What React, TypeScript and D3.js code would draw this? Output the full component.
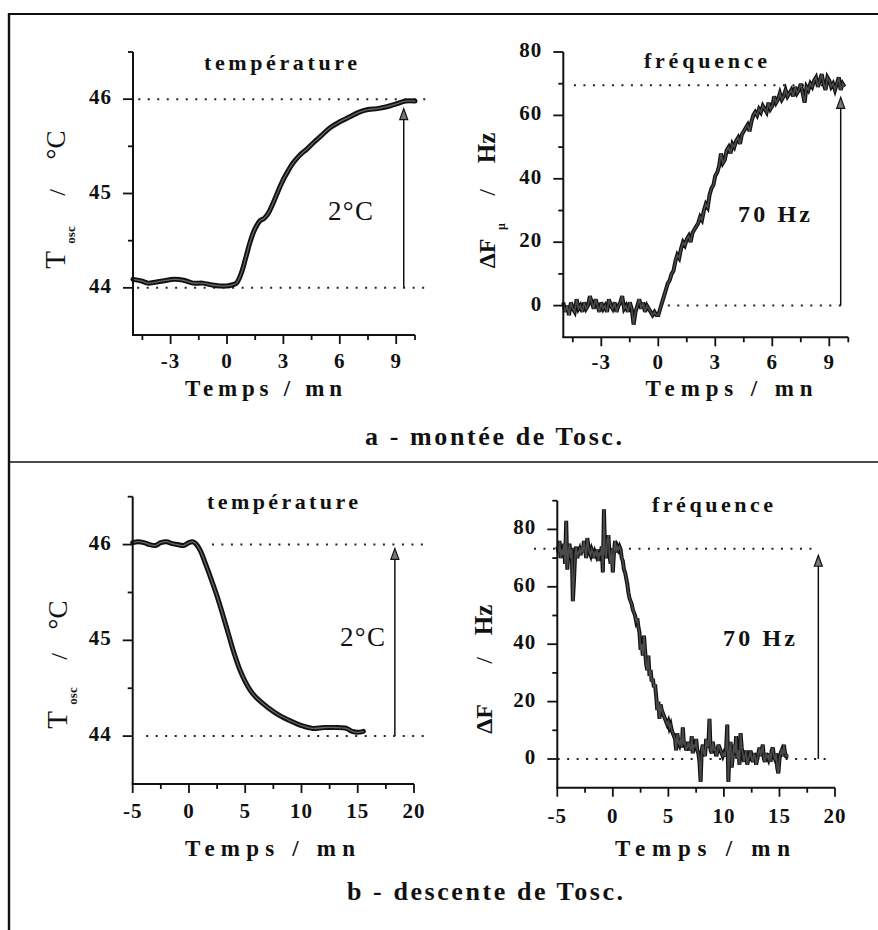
import React from "react";
import * as d3 from "d3";

// ---------------- data ----------------
const tempUpTime = [-5, -4.5, -4.2, -3.5, -2.8, -2.3, -1.8, -1.3, -0.8, -0.4, 0, 0.25, 0.5, 0.75, 1, 1.25, 1.5, 1.75, 2, 2.25, 2.5, 2.75, 3, 3.25, 3.5, 3.75, 4, 4.25, 4.5, 5, 5.5, 6, 6.5, 7, 7.5, 8, 8.5, 9, 9.5, 10];
const tempUpValue = [44.09, 44.07, 44.05, 44.07, 44.09, 44.08, 44.05, 44.05, 44.03, 44.02, 44.02, 44.03, 44.05, 44.15, 44.32, 44.5, 44.63, 44.71, 44.74, 44.81, 44.92, 45.04, 45.15, 45.24, 45.32, 45.38, 45.43, 45.47, 45.52, 45.61, 45.7, 45.76, 45.81, 45.86, 45.89, 45.9, 45.92, 45.95, 45.98, 45.98];

const tempDownTime = [-5, -4.5, -4, -3.5, -3, -2.5, -2, -1.5, -1, -0.5, 0, 0.3, 0.6, 1, 1.5, 2, 2.5, 3, 3.5, 4, 4.5, 5, 5.5, 6, 7, 8, 9, 10, 11, 12, 13, 14, 14.5, 15, 15.5];
const tempDownValue = [46.02, 46.03, 46.02, 46.0, 45.99, 46.02, 46.03, 46.01, 46.0, 45.99, 46.02, 46.03, 46.01, 45.94, 45.79, 45.63, 45.46, 45.27, 45.07, 44.87, 44.7, 44.57, 44.47, 44.4, 44.3, 44.22, 44.16, 44.11, 44.08, 44.09, 44.09, 44.08, 44.05, 44.04, 44.05];

// frequency traces sampled every 0.1 mn starting at -5 mn
const freqUpStart = -5;
const freqUpStep = 0.1;
const freqUpValue = [
  1, -2, 0, -3, 1, -1, -2, 2, -1, 0,
  -2, 1, -1, 0, 3, 1, -1, 2, 0, -2,
  1, -1, 0, -2, 2, 0, -1, 1, -2, 0,
  1, 3, -1, 0, -2, 1, -1, -6, -2, 0,
  2, -1, 1, -2, 0, -1, -2, -3, -2, -3,
  -3, -1, 1, 3, 5, 7, 8, 10, 11, 14,
  16, 15, 18, 20, 19, 21, 22, 20, 23, 24,
  25, 26, 28, 27, 30, 32, 31, 35, 37, 38,
  41, 42, 44, 48, 45, 46, 49, 50, 48, 51,
  50, 52, 53, 51, 54, 55, 56, 57, 55, 58,
  60, 61, 60, 62, 61, 63, 62, 61, 64, 62,
  63, 66, 64, 65, 67, 65, 66, 68, 66, 67,
  68, 66, 69, 67, 68, 70, 67, 64, 69, 68,
  70, 69, 71, 72, 69, 71, 73, 70, 68, 72,
  71, 69, 70, 68, 70, 72, 68, 70, 69,
];

const freqDownStart = -5;
const freqDownStep = 0.1;
const freqDownValue = [
  74, 72, 76, 70, 73, 71, 75, 68, 83, 66,
  72, 75, 70, 73, 55, 62, 71, 74, 70, 72,
  73, 71, 74, 72, 76, 73, 70, 77, 74, 72,
  71, 73, 72, 70, 72, 71, 73, 69, 72, 71,
  74, 65, 87, 72, 70, 76, 78, 71, 68, 73,
  65, 72, 76, 72, 74, 73, 74, 73, 70, 69,
  66, 65, 63, 61, 58, 56, 55, 54, 52, 51,
  50, 48, 49, 46, 44, 38, 40, 36, 43, 38,
  33, 31, 36, 29, 31, 27, 28, 25, 26, 22,
  17, 20, 14, 19, 17, 16, 15, 14, 13, 12,
  13, 11, 12, 10, 9, 8, 7, 3, 9, 6,
  5, 7, 4, 11, 5, 6, 3, 4, 6, 4,
  3, 8, 2, 5, 4, 7, 3, 2, -1, -8,
  3, 5, 2, 1, 7, 4, 5, 14, 3, 2,
  6, 3, 4, 1, 2, 5, 4, 3, 2, 1,
  2, 1, 4, 12, -8, 3, 6, -3, 1, 5,
  2, 8, 0, 3, -2, 9, 4, 2, -1, 1,
  3, -2, 0, 1, 3, 0, -1, 2, 1, -2,
  0, 2, 4, 1, 3, 5, 0, -1, 2, 1,
  0, 2, -1, 3, 4, 1, 0, 2, -3, -5,
  0, 2, 3, 1, 5, 2, 1, 1, 1,
];

const xTicksShortMajor = [-3, 0, 3, 6, 9];
const xTicksShortMinor = [-4.5, -1.5, 1.5, 4.5, 7.5, 10];
const xTicksLongMajor = [-5, 0, 5, 10, 15, 20];
const xTicksLongMinor = [-2.5, 2.5, 7.5, 12.5, 17.5];
const tempTicksMajor = [44, 45, 46];
const tempTicksMinor = [44.5, 45.5, 46.5];
const freqTicksMajor = [0, 20, 40, 60, 80];
const freqUpTicksMinor = [10, 30, 50, 70];
const freqDownTicksMinor = [10, 30, 50, 70, 90];

const titles = ["température", "fréquence", "température", "fréquence"];
const xAxisTitle = "Temps / mn";
const captions = ["a - montée de Tosc.", "b - descente de Tosc."];
const notes = ["2°C", "70 Hz", "2°C", "70 Hz"];

const FONT = "'Liberation Serif', 'Times New Roman', serif";

const freqUpTime = freqUpValue.map((_, i) => freqUpStart + i * freqUpStep);
const freqDownTime = freqDownValue.map((_, i) => freqDownStart + i * freqDownStep);

type YPart = { t: string; c: number; size: number; bold: boolean; bx: number };

type PanelCfg = {
  x0: number; x1: number; yTop: number; yBot: number;
  xDomain: [number, number]; yDomain: [number, number];
  xMajor: number[]; xMinor: number[]; yMajor: number[]; yMinor: number[];
  times: number[]; values: number[]; kind: "temp" | "freq";
  title: string; titleX: number; titleY: number; titleW: number;
  xtX: number; xtY: number; xtW: number; tickDy: number;
  yParts: YPart[];
  guides: { v: number; from: number; to: number }[];
  arrow: { t: number; from: number; to: number };
  note: string; noteX: number; noteY: number; noteW: number; noteBold: boolean;
};

const panels: PanelCfg[] = [
  {
    x0: 133, x1: 415, yTop: 52, yBot: 335,
    xDomain: [-5, 10], yDomain: [43.5, 46.5],
    xMajor: xTicksShortMajor, xMinor: xTicksShortMinor, yMajor: tempTicksMajor, yMinor: tempTicksMinor,
    times: tempUpTime, values: tempUpValue, kind: "temp",
    title: titles[0], titleX: 280.5, titleY: 70, titleW: 153,
    xtX: 263.5, xtY: 396, xtW: 157, tickDy: 33,
    yParts: [
      { t: "T", c: 260, size: 29, bold: false, bx: 65 },
      { t: "osc", c: 235, size: 13, bold: true, bx: 75 },
      { t: "/", c: 192.5, size: 24, bold: false, bx: 65 },
      { t: "°C", c: 145, size: 27, bold: false, bx: 65 },
    ],
    guides: [{ v: 46, from: -4.72, to: 10.83 }, { v: 44, from: -4.78, to: 10.83 }],
    arrow: { t: 9.4, from: 44, to: 45.9 },
    note: notes[0], noteX: 350.5, noteY: 220, noteW: 45, noteBold: false,
  },
  {
    x0: 563.3, x1: 848.3, yTop: 52, yBot: 337.3,
    xDomain: [-5, 10], yDomain: [-10, 80],
    xMajor: xTicksShortMajor, xMinor: xTicksShortMinor, yMajor: freqTicksMajor, yMinor: freqUpTicksMinor,
    times: freqUpTime, values: freqUpValue, kind: "freq",
    title: titles[1], titleX: 705.5, titleY: 68, titleW: 123,
    xtX: 729, xtY: 396, xtW: 167, tickDy: 32,
    yParts: [
      { t: "ΔF", c: 253.5, size: 24, bold: true, bx: 495 },
      { t: "μ", c: 226.5, size: 12, bold: true, bx: 505 },
      { t: "/", c: 192.5, size: 24, bold: false, bx: 495 },
      { t: "Hz", c: 148, size: 25, bold: true, bx: 495 },
    ],
    guides: [{ v: 69.5, from: -4.44, to: 9.87 }, { v: 0, from: 0.5, to: 9.87 }],
    arrow: { t: 9.6, from: 0, to: 65.7 },
    note: notes[1], noteX: 774, noteY: 221.5, noteW: 72, noteBold: true,
  },
  {
    x0: 132.7, x1: 414, yTop: 496.7, yBot: 784,
    xDomain: [-5, 20], yDomain: [43.5, 46.5],
    xMajor: xTicksLongMajor, xMinor: xTicksLongMinor, yMajor: tempTicksMajor, yMinor: tempTicksMinor,
    times: tempDownTime, values: tempDownValue, kind: "temp",
    title: titles[2], titleX: 282.5, titleY: 509, titleW: 151,
    xtX: 270, xtY: 856, xtW: 170, tickDy: 34,
    yParts: [
      { t: "T", c: 720, size: 29, bold: false, bx: 67 },
      { t: "osc", c: 696, size: 13, bold: true, bx: 77 },
      { t: "/", c: 656.5, size: 24, bold: false, bx: 67 },
      { t: "°C", c: 615, size: 27, bold: false, bx: 67 },
    ],
    guides: [{ v: 46, from: 2.04, to: 21.0 }, { v: 44, from: -3.8, to: 21.0 }],
    arrow: { t: 18.3, from: 44, to: 45.96 },
    note: notes[2], noteX: 362.5, noteY: 646, noteW: 45, noteBold: false,
  },
  {
    x0: 557.3, x1: 835, yTop: 500.7, yBot: 787.7,
    xDomain: [-5, 20], yDomain: [-10, 90],
    xMajor: xTicksLongMajor, xMinor: xTicksLongMinor, yMajor: freqTicksMajor, yMinor: freqDownTicksMinor,
    times: freqDownTime, values: freqDownValue, kind: "freq",
    title: titles[3], titleX: 712.5, titleY: 512, titleW: 121,
    xtX: 702.5, xtY: 856, xtW: 175, tickDy: 35,
    yParts: [
      { t: "ΔF", c: 719, size: 24, bold: true, bx: 492 },
      { t: "/", c: 660.5, size: 24, bold: false, bx: 492 },
      { t: "Hz", c: 620, size: 25, bold: true, bx: 492 },
    ],
    guides: [{ v: 73.3, from: -7.1, to: 18.4 }, { v: 0, from: -4.97, to: 19.8 }],
    arrow: { t: 18.5, from: 0, to: 71 },
    note: notes[3], noteX: 759, noteY: 646, noteW: 72, noteBold: true,
  },
];

function Panel({ p }: { p: PanelCfg }) {
  const x = d3.scaleLinear().domain(p.xDomain).range([p.x0, p.x1]);
  const y = d3.scaleLinear().domain(p.yDomain).range([p.yBot, p.yTop]);
  const pts = p.values.map((v, i) => [p.times[i], v] as [number, number]);
  const line = d3
    .line<[number, number]>()
    .x((d) => x(d[0]))
    .y((d) => y(d[1]))
    .curve(p.kind === "temp" ? d3.curveCatmullRom : d3.curveLinear);
  const path = line(pts) || "";
  const ax = x(p.xDomain[0]);
  const ay = y(p.yDomain[0]);
  const arX = x(p.arrow.t);
  const arTip = y(p.arrow.to);
  const arBase = y(p.arrow.from);

  return (
    <g>
      {p.guides.map((g, i) => (
        <line key={"g" + i} x1={x(g.from)} x2={x(g.to)} y1={y(g.v)} y2={y(g.v)}
          stroke="#222" strokeWidth={2} strokeDasharray="2 7.5" />
      ))}
      <line x1={arX} x2={arX} y1={arBase} y2={arTip + 8} stroke="#111" strokeWidth={1.5} />
      <path d={`M${arX},${arTip} L${arX - 4},${arTip + 11} L${arX + 4},${arTip + 11} Z`}
        fill="#777" stroke="#111" strokeWidth={1.2} />
      {p.kind === "temp" ? (
        <g fill="none" strokeLinejoin="round" strokeLinecap="round">
          <path d={path} stroke="#111" strokeWidth={5} />
          <path d={path} stroke="#666" strokeWidth={1.3} />
        </g>
      ) : (
        <g fill="none" strokeLinejoin="miter" strokeLinecap="butt">
          <path d={path} stroke="#111" strokeWidth={4} />
          <path d={path} stroke="#4a4a4a" strokeWidth={1.6} />
        </g>
      )}
      <line x1={ax} x2={ax} y1={p.yTop} y2={ay} stroke="#111" strokeWidth={2} />
      <line x1={ax - 1} x2={p.x1} y1={ay} y2={ay} stroke="#111" strokeWidth={2} />
      {p.yMajor.map((v) => (
        <g key={"ym" + v}>
          <line x1={ax - 10} x2={ax} y1={y(v)} y2={y(v)} stroke="#111" strokeWidth={1.8} />
          <text x={ax - 21} y={y(v) + 5} textAnchor="end" fontSize={21} fontWeight="bold"
            fontFamily={FONT} fill="#111" letterSpacing={1}>{String(v)}</text>
        </g>
      ))}
      {p.yMinor.map((v) => (
        <line key={"yn" + v} x1={ax - 5} x2={ax} y1={y(v)} y2={y(v)} stroke="#111" strokeWidth={1.8} />
      ))}
      {p.xMajor.map((v) => (
        <g key={"xm" + v}>
          <line x1={x(v)} x2={x(v)} y1={ay} y2={ay + 9} stroke="#111" strokeWidth={1.8} />
          <text x={x(v)} y={ay + p.tickDy} textAnchor="middle" fontSize={21} fontWeight="bold"
            fontFamily={FONT} fill="#111" letterSpacing={1}>{String(v)}</text>
        </g>
      ))}
      {p.xMinor.map((v) => (
        <line key={"xn" + v} x1={x(v)} x2={x(v)} y1={ay} y2={ay + 5} stroke="#111" strokeWidth={1.8} />
      ))}
      <text x={p.titleX} y={p.titleY} textAnchor="middle" fontSize={22} fontWeight="bold"
        fontFamily={FONT} fill="#111" textLength={p.titleW} lengthAdjust="spacing">{p.title}</text>
      <text x={p.xtX} y={p.xtY} textAnchor="middle" fontSize={23} fontWeight="bold"
        fontFamily={FONT} fill="#111" textLength={p.xtW} lengthAdjust="spacing">{xAxisTitle}</text>
      {p.yParts.map((yp, i) => (
        <text key={"yp" + i} transform={`translate(${yp.bx},${yp.c}) rotate(-90)`} textAnchor="middle"
          fontSize={yp.size} fontWeight={yp.bold ? "bold" : "normal"} fontFamily={FONT} fill="#111">
          {yp.t}
        </text>
      ))}
      <text x={p.noteX} y={p.noteY} textAnchor="middle" fontSize={p.noteBold ? 24 : 27}
        fontWeight={p.noteBold ? "bold" : "normal"} fontFamily={FONT} fill="#111"
        textLength={p.noteW} lengthAdjust="spacing">{p.note}</text>
    </g>
  );
}

export default function App() {
  return (
    <svg width={878} height={930} viewBox="0 0 878 930"
      style={{ position: "absolute", left: 0, top: 0, background: "#fff" }}>
      <rect x={0} y={0} width={878} height={930} fill="#fff" />
      <line x1={9} x2={878} y1={14} y2={14} stroke="#111" strokeWidth={2.2} />
      <line x1={9} x2={9} y1={13} y2={930} stroke="#111" strokeWidth={2.4} />
      <line x1={9} x2={878} y1={462} y2={462} stroke="#111" strokeWidth={1.6} />
      {panels.map((p, i) => (
        <Panel key={i} p={p} />
      ))}
      <text x={493.5} y={445} textAnchor="middle" fontSize={26} fontWeight="bold" fontFamily={FONT}
        fill="#111" textLength={257} lengthAdjust="spacing">{captions[0]}</text>
      <text x={485} y={900} textAnchor="middle" fontSize={26} fontWeight="bold" fontFamily={FONT}
        fill="#111" textLength={276} lengthAdjust="spacing">{captions[1]}</text>
    </svg>
  );
}
